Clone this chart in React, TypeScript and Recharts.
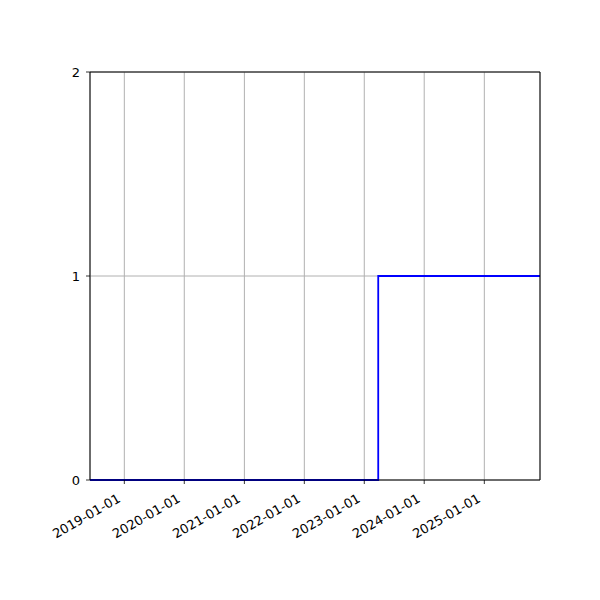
import React from "react";
import { LineChart, Line, XAxis, YAxis, CartesianGrid, ReferenceLine } from "recharts";

const stepDates = ["2018-06-06", "2023-03-27", "2025-12-06"];
const stepValues = [0, 1, 1];
const tickDates = ["2019-01-01", "2020-01-01", "2021-01-01", "2022-01-01", "2023-01-01", "2024-01-01", "2025-01-01"];
const yTicks = [0, 1, 2];

const toTs = (s: string) => new Date(s + "T00:00:00Z").getTime();

const data = stepDates.map((d, i) => ({ t: toTs(d), v: stepValues[i] }));
const xTicks = tickDates.map(toTs);
const domain: [number, number] = [toTs(stepDates[0]), toTs(stepDates[stepDates.length - 1])];

const FONT = "'DejaVu Sans', sans-serif";

const XTick = (props: any) => {
  const { x, payload } = props;
  const idx = xTicks.indexOf(payload.value);
  const label = idx >= 0 ? tickDates[idx] : "";
  const ax = x - 3;
  const ay = 501;
  return (
    <text
      x={ax}
      y={ay}
      textAnchor="end"
      transform={`rotate(-30, ${ax}, ${ay})`}
      fontSize={13}
      fontFamily={FONT}
      fill="#000"
    >
      {label}
    </text>
  );
};

export default function App() {
  return (
    <div style={{ position: "absolute", left: 0, top: 0, width: 600, height: 600, background: "#fff" }}>
      <LineChart width={600} height={600} data={data} margin={{ top: 72, right: 60, left: 0, bottom: 0 }}>
        <CartesianGrid stroke="#b0b0b0" strokeWidth={1} />
        <XAxis
          dataKey="t"
          type="number"
          domain={domain}
          ticks={xTicks}
          allowDataOverflow
          height={120}
          tickSize={4}
          tickLine={{ stroke: "#000", strokeWidth: 0.8 }}
          axisLine={{ stroke: "#000", strokeWidth: 1 }}
          tick={<XTick />}
          interval={0}
        />
        <YAxis
          type="number"
          domain={[0, 2]}
          ticks={yTicks}
          width={90}
          tickSize={4}
          tickMargin={6}
          interval={0}
          tickLine={{ stroke: "#000", strokeWidth: 0.8 }}
          axisLine={{ stroke: "#000", strokeWidth: 1 }}
          tick={{ fill: "#000", fontSize: 13, fontFamily: FONT }}
        />
        <Line
          type="stepAfter"
          dataKey="v"
          stroke="#0000ff"
          strokeWidth={1.8}
          dot={false}
          activeDot={false}
          isAnimationActive={false}
        />
        <ReferenceLine y={2} stroke="#000" strokeWidth={1} ifOverflow="visible" />
        <ReferenceLine x={domain[1]} stroke="#000" strokeWidth={1} ifOverflow="visible" />
      </LineChart>
    </div>
  );
}
